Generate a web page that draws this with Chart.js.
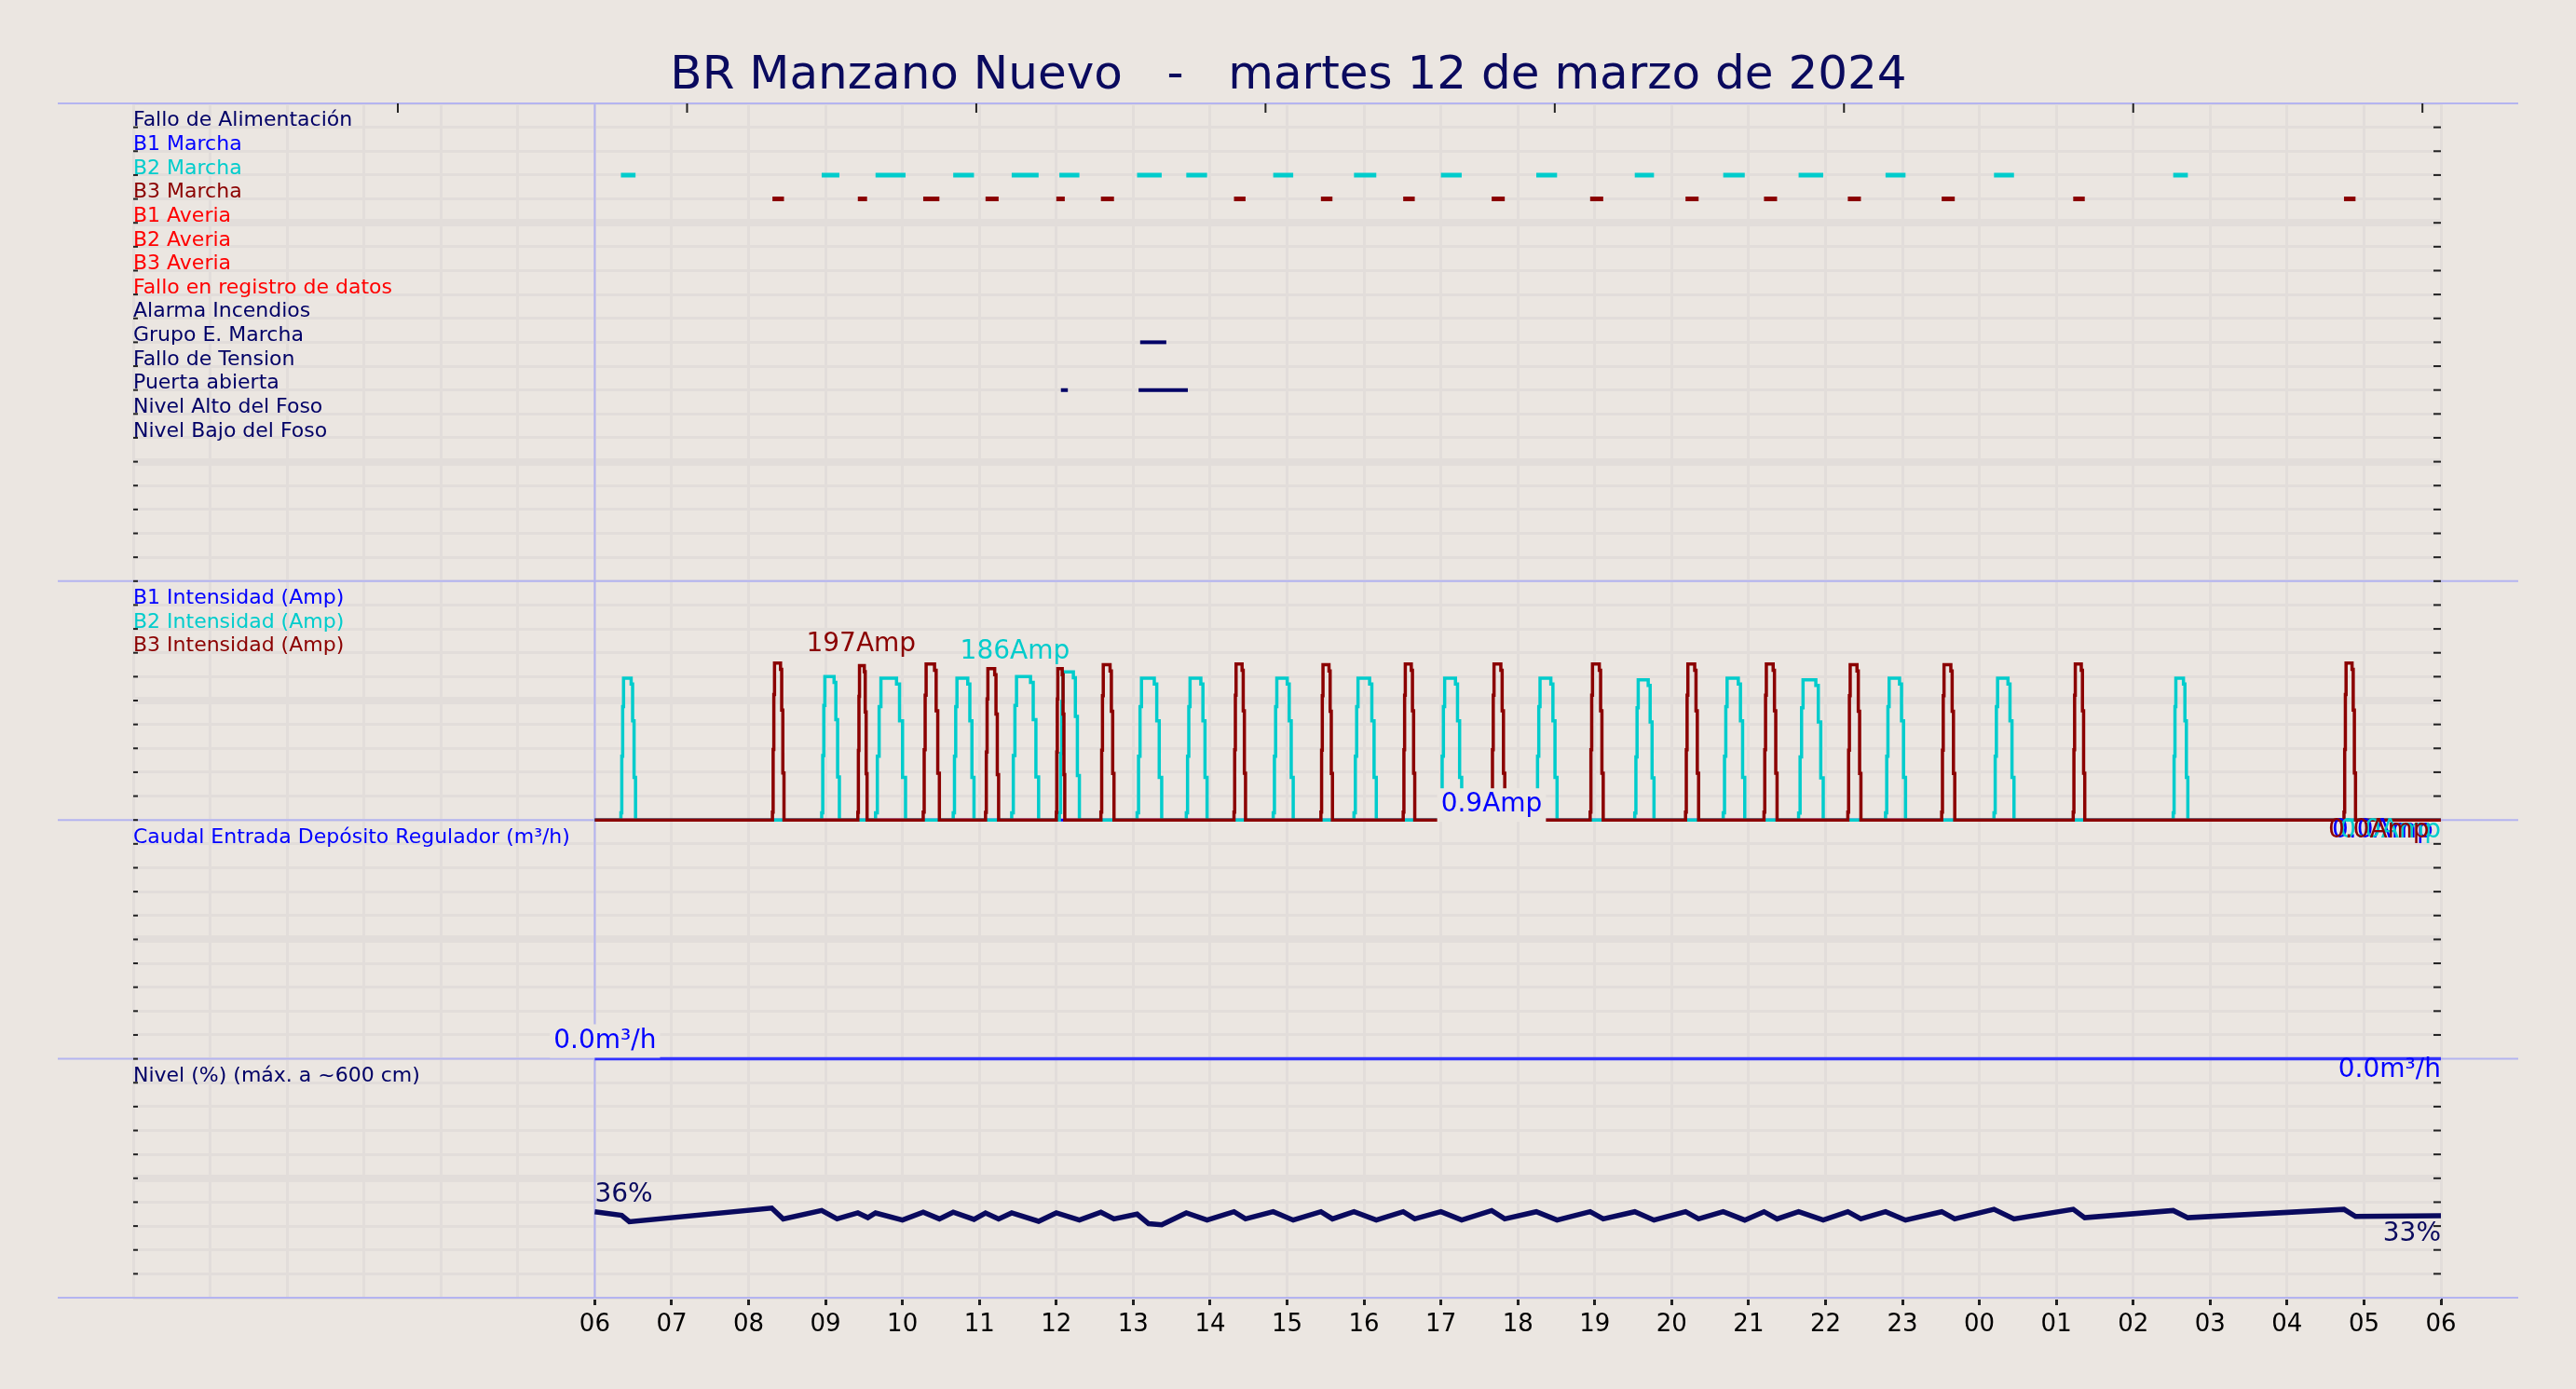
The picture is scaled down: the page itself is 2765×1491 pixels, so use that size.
<!DOCTYPE html>
<html>
<head>
<meta charset="utf-8">
<script src="https://cdn.jsdelivr.net/npm/chart.js@4.4.1/dist/chart.umd.min.js"></script>
<style>
  html, body { margin: 0; padding: 0; background: #ebe6e1; }
  canvas { display: block; }
</style>
</head>
<body>
<canvas id="grafico" width="2765" height="1491"></canvas>
<script>
// Etiquetas del eje horario (desde las 06 del dia 12 hasta las 06 del dia 13)
const horas = ['06','07','08','09','10','11','12','13','14','15','16','17','18','19','20','21','22','23','00','01','02','03','04','05','06'];

// Señales digitales (de arriba a abajo)
const señales = ['Fallo de Alimentación','B1 Marcha','B2 Marcha','B3 Marcha','B1 Averia','B2 Averia','B3 Averia',
  'Fallo en registro de datos','Alarma Incendios','Grupo E. Marcha','Fallo de Tension','Puerta abierta',
  'Nivel Alto del Foso','Nivel Bajo del Foso'];
const coloresSeñales = ['#000066','#0000ff','#00cccc','#8b0000','#ff0000','#ff0000','#ff0000','#ff0000',
  '#000066','#000066','#000066','#000066','#000066','#000066'];

// Arranques de bombas: [inicio (h), fin (h), pico (Amp)]
const b2Ciclos = [[0.34,0.53,178],[2.95,3.18,180],[3.65,4.04,178],[4.66,4.93,178],[5.42,5.77,180],[6.04,6.30,186],
  [7.05,7.37,178],[7.69,7.96,178],[8.82,9.08,178],[9.87,10.16,178],[11.00,11.27,178],[12.24,12.51,178],
  [13.52,13.77,176],[14.67,14.95,178],[15.65,15.97,176],[16.78,17.04,178],[18.19,18.45,178],[20.52,20.71,178]];
const b3Ciclos = [[2.31,2.46,197],[3.42,3.54,194],[4.27,4.48,196],[5.08,5.25,190],[6.00,6.11,190],[6.58,6.75,195],
  [8.31,8.46,196],[9.44,9.59,195],[10.51,10.66,196],[11.66,11.83,196],[12.94,13.11,196],[14.18,14.35,196],
  [15.20,15.37,196],[16.29,16.46,195],[17.51,17.68,195],[19.22,19.37,196],[22.74,22.89,197]];

// Otras señales activas: [inicio, fin]
const grupoMarcha = [[7.09,7.43]];
const puertaAbierta = [[6.06,6.15],[7.07,7.71]];

// Caudal de entrada (m3/h)
const caudalHoras = [0, 24];
const caudalValores = [0, 0];

// Nivel del deposito (%)
const nivelHoras = [0,0.35,0.45,2.3,2.45,2.95,3.15,3.42,3.55,3.65,4.0,4.27,4.48,4.66,4.93,5.08,5.25,5.42,5.77,6.0,6.3,
  6.58,6.75,7.05,7.2,7.37,7.69,7.96,8.31,8.46,8.82,9.08,9.44,9.59,9.87,10.16,10.51,10.66,11.0,11.27,11.66,11.83,
  12.24,12.51,12.94,13.11,13.52,13.77,14.18,14.35,14.67,14.95,15.2,15.37,15.65,15.97,16.29,16.46,16.78,17.04,
  17.51,17.68,18.19,18.45,19.22,19.37,20.52,20.71,22.74,22.89,24];
const nivelValores = [36,34.5,31.8,37.5,33,36.5,33,35.5,33.5,35.5,32.5,35.8,33,35.8,32.8,35.5,33,35.5,32,35.5,32.5,
  35.8,33,35,31,30.5,35.5,32.5,36,33,36,32.5,36,33,36,32.5,36,33,36,32.5,36.5,33,
  36,32.5,36,33,36,32.5,36,33,36,32.5,36,33,36,32.5,36,33,36,32.5,
  36,33,37,33,37,33.5,36.5,33.5,37,34,34.3];

// Bandas verticales del grafico (en filas de rejilla)
const FILAS = 50;
const AMP_POR_FILA = 30;

function pulsos(ciclos) {
  const pts = [{x: 0, y: 20}];
  ciclos.forEach(([a, b, p]) => {
    const d = (b - a);
    pts.push({x: a, y: 20 + p * 0.05 / AMP_POR_FILA}, {x: a + d * 0.06, y: 20 + p * 0.45 / AMP_POR_FILA},
      {x: a + d * 0.12, y: 20 + p * 0.8 / AMP_POR_FILA}, {x: a + d * 0.18, y: 20 + p / AMP_POR_FILA},
      {x: b - d * 0.3, y: 20 + p * 0.96 / AMP_POR_FILA}, {x: b - d * 0.2, y: 20 + p * 0.7 / AMP_POR_FILA},
      {x: b - d * 0.1, y: 20 + p * 0.3 / AMP_POR_FILA}, {x: b, y: 20});
  });
  pts.push({x: 24, y: 20});
  return pts;
}

function tramos(intervalos, fila) {
  const pts = [];
  intervalos.forEach(([a, b]) => { pts.push({x: a, y: fila}, {x: b, y: fila}, {x: b, y: null}); });
  return pts;
}

const dsLinea = (data, color, w, stepped) => ({data, borderColor: color, borderWidth: w, pointRadius: 0, fill: false,
  tension: 0, spanGaps: false, stepped: stepped || false});

// el primer dataset se pinta encima
const datasets = [
  dsLinea(nivelHoras.map((h, i) => ({x: h, y: nivelValores[i] / 10})), '#0a0a5e', 5.5),
  dsLinea(caudalHoras.map((h, i) => ({x: h, y: 10 + caudalValores[i]})), '#3333ff', 3.5),
  dsLinea(tramos(b2Ciclos, 47), '#00cccc', 5),
  dsLinea(tramos(b3Ciclos, 46), '#8b0000', 5),
  dsLinea(tramos(grupoMarcha, 40), '#000066', 4),
  dsLinea(tramos(puertaAbierta, 38), '#000066', 4),
  dsLinea(pulsos(b3Ciclos), '#8b0000', 3.5, 'before'),
  dsLinea(pulsos(b2Ciclos), '#00cccc', 3.5, 'before'),
  dsLinea([{x: 0, y: 20}, {x: 24, y: 20}], '#0000ff', 3)
];

const FUENTE = '"DejaVu Sans", sans-serif';

function texto(ctx, t, x, y, color, size, align, fondo) {
  ctx.font = size + 'px ' + FUENTE;
  ctx.textAlign = align || 'left';
  ctx.textBaseline = 'bottom';
  if (fondo) {
    const w = ctx.measureText(t).width;
    const x0 = align === 'right' ? x - w : x;
    ctx.fillStyle = '#ebe6e1';
    ctx.fillRect(x0 - 4, y - size - 4, w + 8, size + 8);
  }
  ctx.fillStyle = color;
  ctx.fillText(t, x, y);
}

const decorado = {
  id: 'decorado',
  beforeDatasetsDraw(chart) {
    const {ctx, chartArea: ca, scales: {x, y}} = chart;
    ctx.save();
    // separadores de paneles
    ctx.strokeStyle = '#b4b4f0'; ctx.lineWidth = 2;
    [0, 10, 20, 30, 50].forEach(v => {
      const py = y.getPixelForValue(v);
      ctx.beginPath(); ctx.moveTo(62, py); ctx.lineTo(2703, py); ctx.stroke();
    });
    const px0 = x.getPixelForValue(0);
    ctx.beginPath(); ctx.moveTo(px0, ca.top); ctx.lineTo(px0, ca.bottom); ctx.stroke();
    // marcas de los ejes
    ctx.strokeStyle = '#222'; ctx.lineWidth = 2;
    for (let v = 1; v < FILAS; v++) {
      const py = y.getPixelForValue(v);
      ctx.beginPath(); ctx.moveTo(ca.right - 8, py); ctx.lineTo(ca.right, py); ctx.stroke();
      ctx.beginPath(); ctx.moveTo(ca.left, py); ctx.lineTo(ca.left + 5, py); ctx.stroke();
    }
    for (let h = -2.56; h < 24; h += 3.76) {
      const px = x.getPixelForValue(h);
      ctx.beginPath(); ctx.moveTo(px, ca.top); ctx.lineTo(px, ca.top + 10); ctx.stroke();
    }
    // etiquetas de filas
    señales.forEach((s, i) => texto(ctx, s, ca.left, y.getPixelForValue(49 - i) + 4, coloresSeñales[i], 22));
    texto(ctx, 'B1 Intensidad (Amp)', ca.left, y.getPixelForValue(29) + 4, '#0000ff', 22);
    texto(ctx, 'B2 Intensidad (Amp)', ca.left, y.getPixelForValue(28) + 4, '#00cccc', 22);
    texto(ctx, 'B3 Intensidad (Amp)', ca.left, y.getPixelForValue(27) + 4, '#8b0000', 22);
    texto(ctx, 'Caudal Entrada Depósito Regulador (m³/h)', ca.left, y.getPixelForValue(19) + 4, '#0000ff', 22);
    texto(ctx, 'Nivel (%) (máx. a ~600 cm)', ca.left, y.getPixelForValue(9) + 4, '#000066', 22);
    // titulo
    ctx.font = '50px ' + FUENTE; ctx.textAlign = 'center'; ctx.textBaseline = 'middle';
    ctx.fillStyle = '#0a0a5e';
    ctx.fillText('BR Manzano Nuevo   -   martes 12 de marzo de 2024', 1383, 82);
    ctx.restore();
  },
  afterDatasetsDraw(chart) {
    const {ctx, scales: {x, y}} = chart;
    ctx.save();
    const X = h => x.getPixelForValue(h), Y = v => y.getPixelForValue(v);
    texto(ctx, '197Amp', X(2.75), Y(26.8), '#8b0000', 28, 'left');
    texto(ctx, '186Amp', X(4.75), Y(26.5), '#00cccc', 28, 'left');
    texto(ctx, '0.9Amp', X(11.0), Y(20.0) - 2, '#0000ff', 28, 'left', true);
    texto(ctx, '0.0Amp', X(23.9), Y(19.0), '#0000ff', 28, 'right');
    texto(ctx, '0.0Amp', X(24), Y(19.0), '#00cccc', 28, 'right');
    texto(ctx, '0.0Amp', X(23.85), Y(19.0), '#8b0000', 28, 'right');
    texto(ctx, '0.0m³/h', X(0.8), Y(10.2), '#0000ff', 28, 'right', true);
    texto(ctx, '0.0m³/h', X(24), Y(9.0), '#0000ff', 28, 'right');
    texto(ctx, '36%', X(0), Y(3.75), '#0a0a5e', 28, 'left');
    texto(ctx, '33%', X(24), Y(2.1), '#0a0a5e', 28, 'right');
    ctx.restore();
  }
};

new Chart(document.getElementById('grafico'), {
  type: 'line',
  data: { datasets },
  plugins: [decorado],
  options: {
    responsive: false,
    devicePixelRatio: 1,
    animation: false,
    layout: { padding: { left: 143, right: 145, top: 111, bottom: 40 } },
    plugins: { legend: { display: false }, tooltip: { enabled: false } },
    scales: {
      x: {
        type: 'linear', min: -6, max: 24,
        afterFit: s => { s.height = 58; },
        border: { display: false },
        grid: { color: '#e2ddda', lineWidth: 3, drawTicks: true, tickLength: 8,
          tickColor: c => (c.tick && c.tick.value >= 0) ? '#222' : 'rgba(0,0,0,0)' },
        ticks: {
          stepSize: 1, autoSkip: false, maxRotation: 0, color: '#000', padding: 6,
          font: { size: 26, family: FUENTE },
          callback: v => (v >= 0 && Number.isInteger(v)) ? horas[v] : ''
        }
      },
      y: {
        min: 0, max: FILAS,
        afterFit: s => { s.width = 0; },
        border: { display: false },
        grid: {
          drawTicks: false,
          color: '#e2ddda',
          lineWidth: c => (c.tick && c.tick.value % 5 === 0 && c.tick.value % 10 !== 0) ? 8 : 3
        },
        ticks: { display: false, stepSize: 1 }
      }
    }
  }
});
</script>
</body>
</html>
